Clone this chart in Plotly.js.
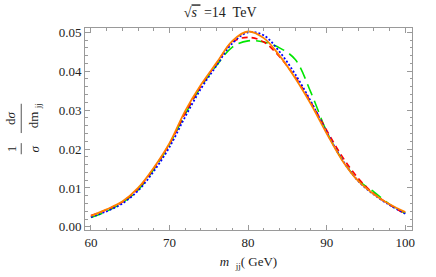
<!DOCTYPE html>
<html>
<head>
<meta charset="utf-8">
<script src="https://cdn.plot.ly/plotly-3.0.1.min.js"></script>
<style>html,body{margin:0;padding:0;background:#fff;}#chart{width:436px;height:277px;}</style>
</head>
<body>
<div id="chart"></div>
<script>
const mjj = [60,62,64,66,68,70,72,74,76,78,80,82,84,86,88,90,92,94,96,98,100];
const orangeVals = [0.0028,0.0045,0.0065,0.0100,0.0152,0.0215,0.0298,0.0365,0.0422,0.0478,0.0502,0.0485,0.0440,0.0382,0.0315,0.0240,0.0170,0.0118,0.0084,0.0058,0.0038];
const blueVals   = [0.0025,0.0040,0.0060,0.0093,0.0143,0.0205,0.0283,0.0355,0.0415,0.0472,0.0500,0.0492,0.0450,0.0392,0.0322,0.0243,0.0172,0.0118,0.0083,0.0056,0.0034];
const redVals    = [0.0029,0.0044,0.0064,0.0098,0.0150,0.0213,0.0292,0.0362,0.0420,0.0475,0.0487,0.0475,0.0437,0.0385,0.0320,0.0248,0.0180,0.0125,0.0085,0.0057,0.0033];
const greenVals  = [0.0024,0.0040,0.0062,0.0095,0.0148,0.0212,0.0290,0.0360,0.0415,0.0462,0.0478,0.0475,0.0460,0.0430,0.0345,0.0245,0.0172,0.0120,0.0090,0.0058,0.0035];
const xTicks = [60,70,80,90,100];
const yTicks = [0.00,0.01,0.02,0.03,0.04,0.05];

const serif = "Liberation Serif, Times New Roman, serif";
function tr(y, color, dash, w){
  return {x: mjj, y: y, type:'scatter', mode:'lines',
          line:{color:color, dash:dash, width:w, shape:'spline', smoothing:1.0},
          hoverinfo:'skip', showlegend:false};
}
const data = [
  tr(greenVals,'rgb(0,230,0)','12px,6px',1.6),
  tr(redVals,'rgb(255,0,0)','6px,4px',1.6),
  tr(blueVals,'rgb(0,0,255)','2px,2px',1.8),
  tr(orangeVals,'rgb(255,128,0)','solid',1.8)
];
const axisCommon = {
  showline:true, linecolor:'#9a9a9a', linewidth:1, mirror:'allticks',
  ticks:'inside', ticklen:5, tickcolor:'#9a9a9a', tickwidth:1,
  showgrid:false, zeroline:false,
  tickfont:{family:serif, size:13, color:'#222'}
};
function ann(x, y, text){
  return {xref:'paper', yref:'paper', x:x, y:y, xanchor:'center', yanchor:'middle',
          text:text, textangle:-90, showarrow:false, font:{family:serif,size:13,color:'#222'}};
}
const layout = {
  width:436, height:277,
  margin:{l:85, r:24, t:28, b:47},
  paper_bgcolor:'#fff', plot_bgcolor:'#fff',
  font:{family:serif, color:'#222'},
  xaxis: Object.assign({}, axisCommon, {
    range:[59.25,100.85], tickvals:xTicks, ticktext:xTicks.map(String),
    minor:{ticks:'inside', dtick:2, tick0:60, ticklen:2.5, tickcolor:'#9a9a9a', showgrid:false},
    title:{text:"<i>m</i>  <sub>jj</sub>( GeV)", font:{family:serif, size:13, color:'#222'}, standoff:8}
  }),
  yaxis: Object.assign({}, axisCommon, {
    range:[-0.0008,0.0511], tickvals:yTicks, ticktext:yTicks.map(v=>v.toFixed(2)),
    minor:{ticks:'inside', dtick:0.002, tick0:0, ticklen:2.5, tickcolor:'#9a9a9a', showgrid:false}
  }),
  title:{text:"√<span style='text-decoration:overline'><i>s</i> </span> =14  TeV", font:{family:serif, size:14, color:'#222'},
         x:0.505, xanchor:'center', y:0.955, yanchor:'middle'},
  annotations:[
    ann(-0.226, 0.40, '1'),
    ann(-0.155, 0.40, '<i>σ</i>'),
    ann(-0.226, 0.555, 'd<i>σ</i>'),
    ann(-0.152, 0.565, 'dm <sub>jj</sub>')
  ],
  shapes:[
    {type:'line', xref:'paper', yref:'paper', x0:-0.195, x1:-0.195, y0:0.375, y1:0.43, line:{color:'#555', width:1}},
    {type:'line', xref:'paper', yref:'paper', x0:-0.195, x1:-0.195, y0:0.48, y1:0.625, line:{color:'#555', width:1}}
  ]
};
Plotly.newPlot('chart', data, layout, {staticPlot:true, displayModeBar:false});
</script>
</body>
</html>
